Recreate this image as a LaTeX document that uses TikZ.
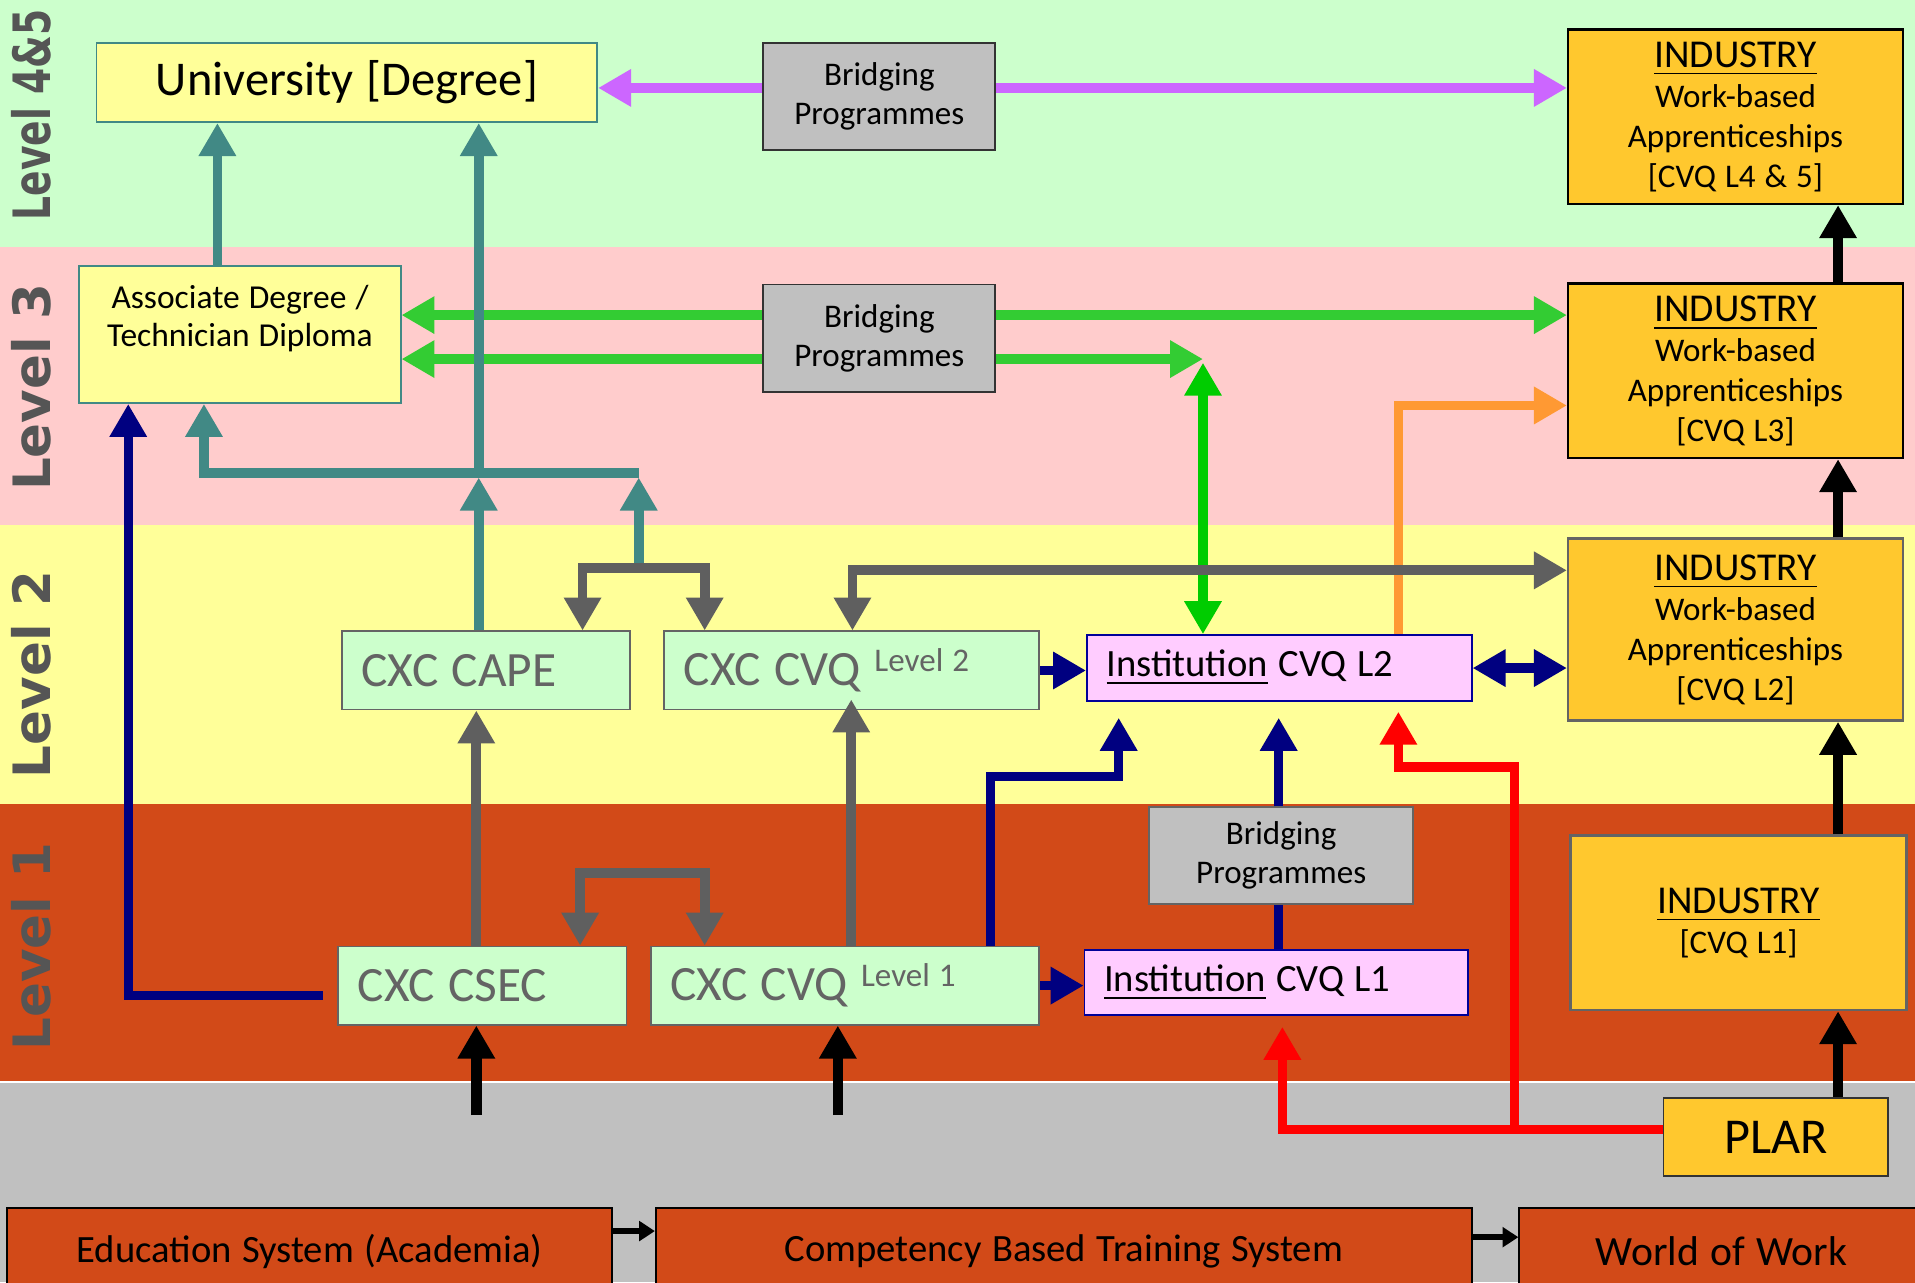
\documentclass[tikz,border=0pt]{standalone}
\usepackage{fontspec}
\setmainfont{Carlito}[WordSpace=1.2]
\newfontfamily\lvlfont{DejaVu Sans}
\usetikzlibrary{arrows.meta,calc}
\definecolor{bandgreen}{HTML}{CCFFCC}
\definecolor{bandpink}{HTML}{FFCCCC}
\definecolor{bandyellow}{HTML}{FFFF99}
\definecolor{bandorange}{HTML}{D24A18}
\definecolor{bandgray}{HTML}{C0C0C0}
\definecolor{tealc}{HTML}{418985}
\definecolor{indgold}{HTML}{FFC82E}
\definecolor{cxcgray}{HTML}{646464}
\definecolor{instpink}{HTML}{FFCCFF}
\definecolor{instnavy}{HTML}{000099}
\definecolor{navyc}{HTML}{000080}
\definecolor{purplec}{HTML}{CC66FF}
\definecolor{greenc}{HTML}{33CC33}
\definecolor{limec}{HTML}{00CC00}
\definecolor{orangec}{HTML}{FF9933}
\definecolor{grayc}{HTML}{5F5F5F}
\definecolor{lvlgray}{HTML}{555555}
\begin{document}
\begin{tikzpicture}[x=0.1mm,y=-0.1mm,
    >={Triangle[length=2.7mm,width=2.9mm]},
    box/.style={draw,line width=0.15mm,inner sep=0pt,align=center},
    unibox/.style={box,fill=bandyellow,draw=tealc,font=\fontsize{11.3}{13}\selectfont},
    bridge/.style={box,fill=bandgray,draw=black!80,font=\fontsize{7.7}{9.1}\selectfont},
    industry/.style={box,fill=indgold,draw=black,line width=0.2mm,minimum width=27.4mm,font=\fontsize{7.7}{9.3}\selectfont},
    cxc/.style={draw=cxcgray,line width=0.15mm,fill=bandgreen,text=cxcgray,inner ysep=0pt,inner xsep=1.6mm,minimum height=6.4mm,font=\fontsize{11.5}{13}\selectfont},
    inst/.style={draw=instnavy,line width=0.15mm,fill=instpink,inner ysep=0pt,inner xsep=1.6mm,font=\fontsize{9}{11}\selectfont},
    sysbox/.style={box,fill=bandorange,draw=black,minimum height=7.1mm,font=\fontsize{9}{11}\selectfont},
    lvl/.style={rotate=90,text=lvlgray,font=\lvlfont\bfseries\fontsize{12}{14}\selectfont},
    tealline/.style={draw=tealc,line width=0.8mm},
    purpleline/.style={draw=purplec,line width=0.8mm},
    greenline/.style={draw=greenc,line width=0.8mm},
    limeline/.style={draw=limec,line width=0.8mm},
    orangeline/.style={draw=orangec,line width=0.8mm},
    grayline/.style={draw=grayc,line width=0.8mm},
    navyline/.style={draw=navyc,line width=0.75mm},
    redline/.style={draw=red,line width=0.75mm},
    blackline/.style={draw=black,line width=0.85mm},
    smallarr/.style={draw=black,line width=0.5mm,-{Triangle[length=1.3mm,width=1.6mm]}}]
  \clip (0,0) rectangle (1568,1050);
  \fill[bandgreen] (0,0) rectangle (1568,202);
  \fill[bandpink] (0,202) rectangle (1568,430);
  \fill[bandyellow] (0,430) rectangle (1568,658);
  \fill[bandorange] (0,658) rectangle (1568,886);
  \fill[bandgray] (0,886) rectangle (1568,1050);
  \draw[white,line width=0.2mm] (0,886) -- (1568,886);

  \node[lvl] (lvlA) at (26,94) {\scalebox{0.73}[1]{Level 4\&5}};
  \node[lvl] (lvlB) at (26,317) {Level 3};
  \node[lvl] (lvlC) at (26,552) {Level 2};
  \node[lvl] (lvlD) at (26,775) {Level 1};

  \node[unibox,minimum width=41mm,minimum height=6.5mm] (uni) at (284,67.5) {University [Degree]};
  \node[bridge,minimum width=19mm,minimum height=8.8mm] (bridgeA) at (720,79) {Bridging\\Programmes};
  \node[industry,minimum height=14.3mm] (indA) at (1421,95.5)
    {{\fontsize{9.2}{10}\selectfont\underline{INDUSTRY}}\\Work-based\\Apprenticeships\\{[CVQ L4 \& 5]}};
  \node[box,fill=bandyellow,draw=tealc,minimum width=26.3mm,minimum height=11.2mm,
    font=\fontsize{7.8}{8.8}\selectfont] (assoc) at (196.5,274) {Associate Degree /\\Technician Diploma\\\mbox{}};
  \node[bridge,minimum width=19mm,minimum height=8.8mm] (bridgeB) at (720,277) {Bridging\\Programmes};
  \node[industry,minimum height=14.3mm] (indB) at (1421,303.5)
    {{\fontsize{9.2}{10}\selectfont\underline{INDUSTRY}}\\Work-based\\Apprenticeships\\{[CVQ L3]}};

  \node[cxc] (cape) at (398,549) {\makebox[20.4mm][l]{CXC CAPE}};
  \node[cxc] (cvq2) at (697.5,549)
    {\makebox[27.5mm][l]{CXC CVQ \raisebox{3.2pt}{\fontsize{7.7}{9}\selectfont Level 2}}};
  \node[inst,minimum height=5.4mm] (inst2) at (1047.5,547) {\makebox[28.3mm][l]{\underline{Institution} CVQ L2}};
  \node[industry,draw=cxcgray,minimum height=14.9mm] (indC) at (1421,515.5)
    {{\fontsize{9.2}{10}\selectfont\underline{INDUSTRY}}\\Work-based\\Apprenticeships\\{[CVQ L2]}};

  \node[bridge,draw=cxcgray,minimum width=21.6mm,minimum height=7.9mm] (bridgeC) at (1049,700.5) {Bridging\\Programmes};
  \node[cxc] (csec) at (395,807) {\makebox[20.4mm][l]{CXC CSEC}};
  \node[cxc] (cvq1) at (692,807)
    {\makebox[28.6mm][l]{CXC CVQ \raisebox{3.2pt}{\fontsize{7.7}{9}\selectfont Level 1}}};
  \node[inst,minimum height=5.3mm] (inst1) at (1045,804.5) {\makebox[28.2mm][l]{\underline{Institution} CVQ L1}};
  \node[industry,draw=cxcgray,minimum width=27.5mm,minimum height=14.3mm] (indD) at (1423.5,755.5)
    {{\fontsize{9.2}{10}\selectfont\underline{INDUSTRY}}\\{[CVQ L1]}};

  \node[box,fill=indgold,draw=black!80,minimum width=18.4mm,minimum height=6.4mm,
    font=\fontsize{11.7}{13}\selectfont] (plar) at (1454,931) {PLAR};
  \node[sysbox,minimum width=49.5mm] (edu) at (253.5,1024.5) {Education System (Academia)};
  \node[sysbox,minimum width=66.8mm] (cbt) at (871,1024.5) {Competency Based Training System};
  \node[sysbox,minimum width=33.1mm,font=\fontsize{9.7}{11}\selectfont] (wow) at (1409.5,1024.5) {World of Work};

  \coordinate (py) at (0,72);
  \coordinate (gA) at (0,258);
  \coordinate (gB) at (0,294);
  \coordinate (gt) at (985,294);
  \coordinate (oc) at (1145,332);
  \coordinate (tu) at (178,0);
  \coordinate (tj) at (392,387);
  \coordinate (tjl) at (167,387);
  \coordinate (tjr) at (523,387);
  \coordinate (gb) at (523,465);
  \coordinate (gbl) at (477,0);
  \coordinate (gbr) at (577,0);
  \coordinate (gl) at (698,467);
  \coordinate (gv) at (390,0);
  \coordinate (gw) at (697,0);
  \coordinate (gk) at (525,715);
  \coordinate (gkl) at (475,0);
  \coordinate (gkr) at (577,0);
  \coordinate (ny) at (0,815);
  \coordinate (nx) at (105,0);
  \coordinate (nb) at (811,636);
  \coordinate (nc) at (916,636);
  \coordinate (nm) at (1047,0);
  \coordinate (ry) at (0,925);
  \coordinate (rx) at (1050,0);
  \coordinate (rs) at (1240,925);
  \coordinate (rt) at (1145,628);
  \coordinate (bx) at (1505,0);
  \coordinate (e1) at (390,913);
  \coordinate (e2) at (686,913);
  \coordinate (sy1) at (0,1008);
  \coordinate (sy2) at (0,1013);

  \draw[purpleline,<-] (uni.east |- py) -- (bridgeA.west |- py);
  \draw[purpleline,->] (bridgeA.east |- py) -- (indA.west |- py);

  \draw[greenline,<-] (assoc.east |- gA) -- (bridgeB.west |- gA);
  \draw[greenline,->] (bridgeB.east |- gA) -- (indB.west |- gA);
  \draw[greenline,<-] (assoc.east |- gB) -- (bridgeB.west |- gB);
  \draw[greenline,->] (bridgeB.east |- gB) -- (gt);
  \draw[limeline,<->] ([yshift=-0.3mm]gt) -- (gt |- inst2.north);
  \draw[orangeline,->] (inst2.north -| oc) -- (oc) -- (oc -| indB.west);

  \draw[tealline,->] (assoc.north -| tu) -- (uni.south -| tu);
  \draw[tealline,->] (tj) -- (uni.south -| tj);
  \draw[tealline,->] (tjr) -- (tjl) -- (assoc.south -| tjl);
  \draw[tealline,->,shorten >=0.4mm] (cape.north -| tj) -- (tj);
  \draw[tealline,->,shorten >=0.4mm] (gb) -- (tjr);

  \draw[grayline,<->] (cape.north -| gbl) |- (gb) -| (cvq2.north -| gbr);
  \draw[grayline,<->] (cvq2.north -| gl) |- (indC.west |- gl);
  \draw[grayline,->] (csec.north -| gv) -- (cape.south -| gv);
  \draw[grayline,->,shorten >=-0.9mm] (cvq1.north -| gw) -- (cvq2.south -| gw);
  \draw[grayline,<->] (csec.north -| gkl) |- (gk) -| (cvq1.north -| gkr);

  \draw[navyline,->,shorten <=1.2mm] (csec.west |- ny) -| (assoc.south -| nx);
  \draw[navyline,->] (cvq2.east) -- (cvq2.east -| inst2.west);
  \draw[navyline,->] (cvq1.east) -- (cvq1.east -| inst1.west);
  \draw[navyline,->,shorten >=1.3mm] (cvq1.north -| nb) |- (nc) -- (inst2.south -| nc);
  \draw[navyline] (inst1.north -| nm) -- (bridgeC.south -| nm);
  \draw[navyline,->,shorten >=1.3mm] (bridgeC.north -| nm) -- (inst2.south -| nm);
  \draw[navyline,<->] (inst2.east) -- (inst2.east -| indC.west);

  \draw[redline,->,shorten >=0.9mm] (plar.west |- ry) -| (inst1.south -| rx);
  \draw[redline,->,shorten >=0.8mm] (rs) |- (rt) -- (inst2.south -| rt);

  \draw[blackline,->] (indB.north -| bx) -- (indA.south -| bx);
  \draw[blackline,->] (indC.north -| bx) -- (indB.south -| bx);
  \draw[blackline,->] (indD.north -| bx) -- (indC.south -| bx);
  \draw[blackline,->] (plar.north -| bx) -- (indD.south -| bx);
  \draw[blackline,->] (e1) -- (csec.south -| e1);
  \draw[blackline,->] (e2) -- (cvq1.south -| e2);
  \draw[smallarr] (edu.east |- sy1) -- (cbt.west |- sy1);
  \draw[smallarr] (cbt.east |- sy2) -- (wow.west |- sy2);
\end{tikzpicture}
\end{document}
